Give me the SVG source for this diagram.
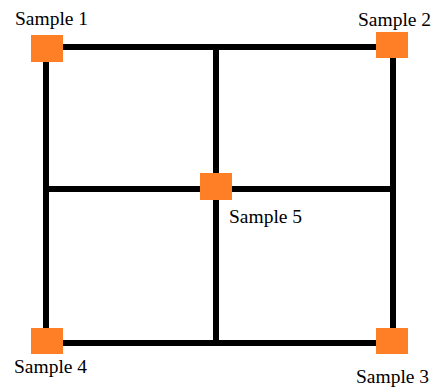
<svg xmlns="http://www.w3.org/2000/svg" width="434" height="388" viewBox="0 0 434 388">
<style>
.ln{stroke:#000;stroke-width:6;fill:none;stroke-linecap:butt}
.sq{fill:#FF7F27}
.lb{font-family:"Liberation Serif",serif;font-size:19.5px;fill:#000}
</style>
<rect width="434" height="388" fill="#fff"/>
<g id="connectors">
<line class="ln" x1="46" y1="47" x2="393" y2="47"/>
<line class="ln" x1="46" y1="343" x2="393" y2="343"/>
<line class="ln" x1="46" y1="44" x2="46" y2="346"/>
<line class="ln" x1="393" y1="44" x2="393" y2="346"/>
<line class="ln" x1="216" y1="47" x2="216" y2="343"/>
<line class="ln" x1="46" y1="189" x2="393" y2="189"/>
</g>
<g id="sample1"><rect class="sq" x="31" y="35" width="32" height="27"/><text class="lb" x="15" y="25">Sample 1</text></g>
<g id="sample2"><rect class="sq" x="376" y="32" width="32" height="26"/><text class="lb" x="358" y="26">Sample 2</text></g>
<g id="sample5"><rect class="sq" x="200" y="173" width="32" height="27"/><text class="lb" x="229" y="223">Sample 5</text></g>
<g id="sample4"><rect class="sq" x="31" y="328" width="32" height="26"/><text class="lb" x="14" y="373">Sample 4</text></g>
<g id="sample3"><rect class="sq" x="376" y="328" width="32" height="26"/><text class="lb" x="356" y="383">Sample 3</text></g>
</svg>
